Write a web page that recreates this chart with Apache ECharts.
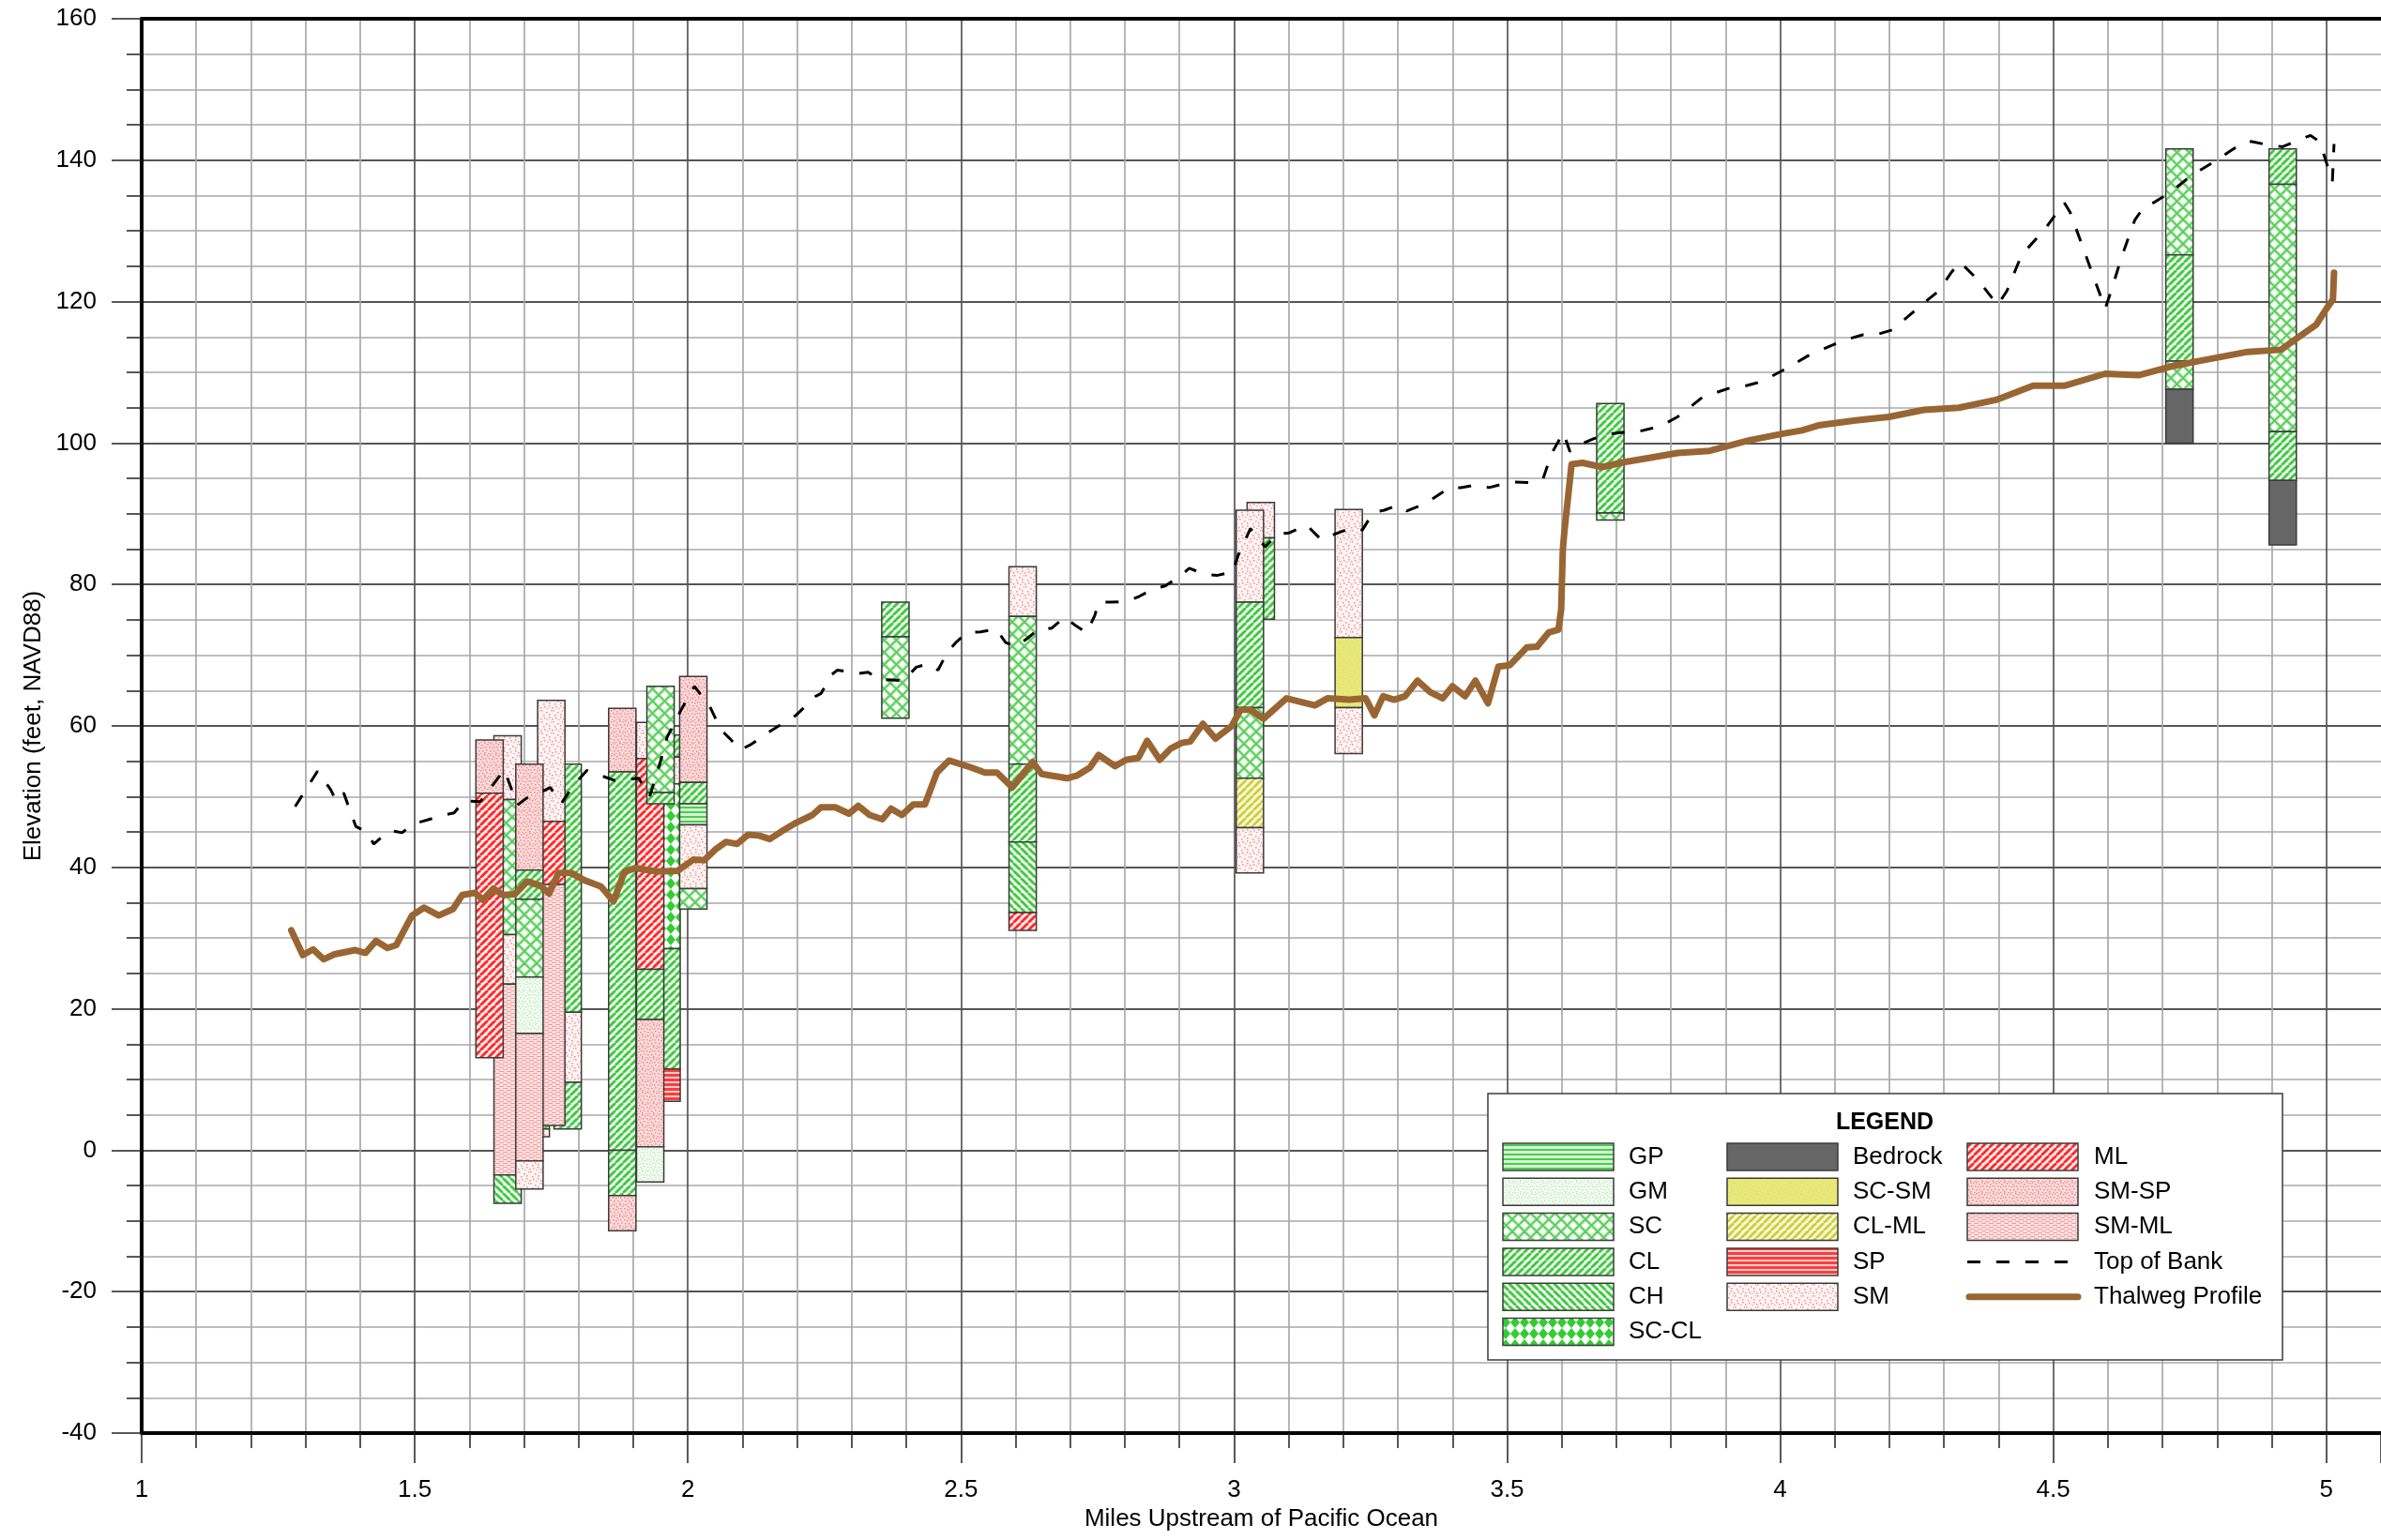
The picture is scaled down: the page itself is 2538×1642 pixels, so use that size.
<!DOCTYPE html>
<html>
<head>
<meta charset="utf-8">
<script src="https://cdn.jsdelivr.net/npm/echarts@6/dist/echarts.min.js"></script>
<style>
  html, body { margin: 0; padding: 0; background: #ffffff; overflow: hidden; }
  #chart { width: 2538px; height: 1642px; }
</style>
</head>
<body>
<div id="chart"></div>
<script>
// ---------------------------------------------------------------
// Axis tick labels
const xTickLabels = ['1', '1.5', '2', '2.5', '3', '3.5', '4', '4.5', '5'];
const yTickLabels = ['-40', '-20', '0', '20', '40', '60', '80', '100', '120', '140', '160'];

// Thalweg profile (miles upstream, elevation ft NAVD88)
const thalwegMiles = [
  1.274, 1.295, 1.314, 1.333, 1.353, 1.391, 1.410, 1.429, 1.450, 1.466,
  1.495, 1.517, 1.544, 1.570, 1.587, 1.610, 1.625, 1.644, 1.661, 1.683,
  1.706, 1.730, 1.746, 1.763, 1.787, 1.810, 1.841, 1.864, 1.884, 1.904,
  1.944, 1.981, 2.010, 2.030, 2.050, 2.070, 2.090, 2.110, 2.130, 2.150,
  2.170, 2.198, 2.228, 2.244, 2.270, 2.295, 2.312, 2.333, 2.356, 2.372,
  2.392, 2.413, 2.434, 2.456, 2.478, 2.516, 2.544, 2.566, 2.594, 2.631,
  2.648, 2.694, 2.713, 2.736, 2.752, 2.782, 2.802, 2.825, 2.841, 2.864,
  2.884, 2.904, 2.920, 2.943, 2.966, 2.996, 3.012, 3.030, 3.054, 3.096,
  3.148, 3.171, 3.211, 3.241, 3.257, 3.273, 3.293, 3.313, 3.336, 3.359,
  3.382, 3.400, 3.423, 3.442, 3.465, 3.484, 3.505, 3.536, 3.555, 3.576,
  3.594, 3.599, 3.602, 3.605, 3.618, 3.638, 3.674, 3.714, 3.760, 3.812,
  3.871, 3.944, 4.003, 4.040, 4.070, 4.138, 4.199, 4.263, 4.327, 4.395,
  4.463, 4.520, 4.595, 4.656, 4.720, 4.774, 4.856, 4.917, 4.940, 4.981,
  5.001, 5.012, 5.014
];
const thalwegElev = [
  31.1, 27.6, 28.4, 27.0, 27.7, 28.3, 27.9, 29.6, 28.6, 29.0,
  33.2, 34.3, 33.2, 34.1, 36.1, 36.4, 35.4, 37.0, 36.1, 36.2,
  38.0, 37.4, 36.3, 39.2, 39.2, 38.2, 37.3, 35.2, 39.4, 39.9,
  39.4, 39.5, 41.1, 41.0, 42.5, 43.6, 43.3, 44.6, 44.5, 44.0,
  45.0, 46.3, 47.4, 48.5, 48.5, 47.6, 48.7, 47.4, 46.8, 48.3,
  47.4, 48.9, 48.9, 53.4, 55.1, 54.2, 53.4, 53.4, 51.3, 54.9,
  53.2, 52.6, 53.0, 54.1, 55.9, 54.3, 55.2, 55.5, 57.9, 55.2,
  56.8, 57.6, 57.8, 60.3, 58.2, 60.0, 62.3, 62.3, 61.0, 63.9,
  62.9, 63.9, 63.7, 63.9, 61.5, 64.2, 63.7, 64.2, 66.4, 64.8,
  63.9, 65.6, 64.2, 66.4, 63.2, 68.4, 68.6, 71.1, 71.2, 73.2,
  73.6, 76.5, 84.9, 87.6, 97.0, 97.2, 96.6, 97.3, 97.9, 98.6,
  98.9, 100.4, 101.3, 101.8, 102.5, 103.2, 103.7, 104.7, 105.0, 106.1,
  108.1, 108.1, 109.8, 109.6, 110.9, 111.7, 112.9, 113.2, 114.5, 116.7,
  119.1, 120.3, 124.1
];

// Top of bank (miles upstream, elevation ft NAVD88)
const bankMiles = [
  1.281, 1.322, 1.346, 1.356, 1.370, 1.392, 1.412, 1.425, 1.440, 1.455,
  1.477, 1.496, 1.523, 1.548, 1.572, 1.590, 1.620, 1.664, 1.688, 1.705,
  1.733, 1.748, 1.768, 1.793, 1.815, 1.840, 1.866, 1.890, 1.910, 1.930,
  1.950, 1.962, 1.990, 2.012, 2.040, 2.060, 2.077, 2.096, 2.116, 2.152,
  2.198, 2.234, 2.244, 2.264, 2.274, 2.290, 2.310, 2.330, 2.350, 2.375,
  2.395, 2.418, 2.441, 2.458, 2.475, 2.492, 2.511, 2.536, 2.564, 2.582,
  2.600, 2.622, 2.644, 2.666, 2.690, 2.708, 2.730, 2.745, 2.752, 2.774,
  2.804, 2.826, 2.853, 2.874, 2.900, 2.918, 2.948, 2.970, 2.998, 3.008,
  3.030, 3.057, 3.078, 3.101, 3.133, 3.160, 3.187, 3.215, 3.235, 3.255,
  3.275, 3.300, 3.316, 3.346, 3.365, 3.395, 3.415, 3.444, 3.467, 3.497,
  3.513, 3.549, 3.566, 3.582, 3.603, 3.615, 3.628, 3.658, 3.681, 3.710,
  3.733, 3.766, 3.786, 3.812, 3.832, 3.858, 3.904, 3.927, 3.957, 3.976,
  4.003, 4.026, 4.050, 4.100, 4.124, 4.151, 4.175, 4.205, 4.219, 4.263,
  4.290, 4.314, 4.329, 4.354, 4.368, 4.398, 4.415, 4.442, 4.470, 4.486,
  4.520, 4.531, 4.595, 4.608, 4.625, 4.649, 4.666, 4.686, 4.713, 4.754,
  4.801, 4.822, 4.852, 4.866, 4.890, 4.920, 4.951, 4.971, 4.988, 5.011,
  5.014
];
const bankElev = [
  48.6, 53.6, 51.0, 49.4, 50.5, 45.8, 45.0, 43.3, 44.3, 45.2,
  44.9, 46.1, 46.7, 47.3, 47.7, 49.4, 49.3, 53.8, 48.8, 49.8,
  50.7, 51.3, 49.0, 51.8, 53.7, 53.0, 52.3, 52.4, 52.6, 50.0,
  55.0, 58.4, 62.6, 65.6, 62.8, 59.5, 58.2, 56.6, 57.4, 59.3,
  61.5, 64.2, 64.6, 67.3, 67.9, 67.7, 67.4, 67.6, 66.6, 66.5,
  66.4, 68.3, 68.8, 67.9, 70.4, 71.9, 73.2, 73.3, 73.7, 71.8,
  71.2, 72.4, 73.8, 73.8, 75.4, 74.3, 73.2, 75.6, 77.5, 77.5,
  77.6, 78.3, 79.4, 79.8, 81.1, 82.3, 81.4, 81.3, 81.8, 84.2,
  87.9, 85.3, 87.1, 87.3, 88.4, 86.3, 87.2, 88.0, 87.7, 90.2,
  90.5, 91.2, 90.4, 91.3, 92.2, 93.7, 93.7, 94.1, 93.7, 94.3,
  94.5, 94.4, 95.0, 98.6, 101.5, 98.8, 99.6, 100.6, 101.2, 101.5,
  101.5, 102.1, 102.6, 103.7, 104.9, 106.5, 107.7, 107.9, 108.5, 109.1,
  110.2, 111.2, 112.3, 114.0, 114.7, 115.3, 115.3, 116.0, 116.9, 119.8,
  121.5, 124.2, 125.6, 123.7, 122.5, 119.5, 121.5, 126.6, 129.0, 130.4,
  134.0, 132.6, 119.0, 122.0, 126.3, 131.5, 133.4, 134.1, 135.4, 137.9,
  140.1, 141.2, 142.7, 142.6, 142.2, 141.9, 142.9, 143.5, 142.6, 137.0,
  142.3
];

// Soil classes shown in the boring logs
const soilTypes = ['GP', 'GM', 'SC', 'CL', 'CH', 'SC-CL', 'Bedrock', 'SC-SM', 'CL-ML', 'SP', 'SM', 'ML', 'SM-SP', 'SM-ML'];

// Boring logs: [top elevation, bottom elevation, soil class]
const bh01 = [[58.0, 50.5, 'SM-SP'], [50.5, 13.1, 'ML']];
const bh02 = [[58.6, 49.6, 'SM'], [49.6, 30.5, 'SC'], [30.5, 23.5, 'SM'], [23.5, -3.5, 'SM-ML'], [-3.5, -7.5, 'CH']];
const bh03 = [[54.6, 39.6, 'SM-SP'], [39.6, 35.5, 'CL'], [35.5, 24.5, 'SC'], [24.5, 16.5, 'GM'], [16.5, -1.5, 'SM-ML'], [-1.5, -5.5, 'SM']];
const bh03b = [[9.0, 3.0, 'CL'], [3.0, 1.9, 'SM']];
const bh04 = [[63.6, 46.5, 'SM'], [46.5, 37.6, 'ML'], [37.6, 3.5, 'SM-ML']];
const bh05 = [[54.6, 19.5, 'CL'], [19.5, 9.6, 'SM'], [9.6, 3.0, 'CL']];
const bh06 = [[62.5, 53.5, 'SM-SP'], [53.5, 0.0, 'CL'], [0.0, -6.4, 'CL'], [-6.4, -11.4, 'SM-SP']];
const bh07 = [[60.5, 55.4, 'SM'], [55.4, 25.6, 'ML'], [25.6, 18.5, 'CL'], [18.5, 0.5, 'SM-SP'], [0.5, -4.5, 'GM']];
const bh08 = [[65.6, 50.6, 'SC'], [50.6, 49.0, 'CL']];
const bh09 = [[58.7, 55.6, 'CL'], [55.6, 51.8, 'SM'], [51.8, 28.5, 'SC-CL'], [28.5, 11.5, 'CL'], [11.5, 6.9, 'SP']];
const bh10 = [[67.0, 52.0, 'SM-SP'], [52.0, 49.0, 'CL'], [49.0, 46.0, 'GP'], [46.0, 37.0, 'SM'], [37.0, 34.1, 'SC']];
const bh11 = [[77.5, 72.6, 'CL'], [72.6, 61.1, 'SC']];
const bh12 = [[82.5, 75.5, 'SM'], [75.5, 54.6, 'SC'], [54.6, 43.6, 'CL'], [43.6, 33.6, 'CH'], [33.6, 31.1, 'ML']];
const bh13 = [[90.5, 77.5, 'SM'], [77.5, 62.6, 'CL'], [62.6, 52.6, 'SC'], [52.6, 45.6, 'CL-ML'], [45.6, 39.2, 'SM']];
const bh14 = [[91.6, 86.6, 'SM'], [86.6, 75.1, 'CL']];
const bh15 = [[90.6, 72.5, 'SM'], [72.5, 62.6, 'SC-SM'], [62.6, 56.1, 'SM']];
const bh16 = [[105.6, 90.1, 'CL'], [90.1, 89.1, 'SC']];
const bh17 = [[141.6, 126.6, 'SC'], [126.6, 111.6, 'CL'], [111.6, 107.6, 'SC'], [107.6, 100.0, 'Bedrock']];
const bh18 = [[141.6, 136.6, 'CL'], [136.6, 101.6, 'SC'], [101.6, 94.7, 'CL'], [94.7, 85.6, 'Bedrock']];

const boringStations = [1.637, 1.670, 1.710, 1.7215, 1.750, 1.780, 1.880, 1.931, 1.950, 1.961, 2.010,
                        2.380, 2.613, 3.029, 3.049, 3.210, 3.689, 4.731, 4.920];
const boringLogs = [bh01, bh02, bh03, bh03b, bh04, bh05, bh06, bh07, bh08, bh09, bh10,
                    bh11, bh12, bh13, bh14, bh15, bh16, bh17, bh18];

// Overlapping logs: later entries are painted on top
const paintOrder = [3, 5, 4, 1, 2, 0, 6, 9, 7, 8, 10, 11, 12, 14, 13, 15, 16, 17, 18];

// ---------------------------------------------------------------
// Hatch fills
function tile(w, h, draw) {
  const c = document.createElement('canvas');
  c.width = w; c.height = h;
  const ctx = c.getContext('2d');
  draw(ctx, w, h);
  return c;
}
function diag(size, fg, halo, bg, lw, up) {
  return tile(size, size, (ctx) => {
    ctx.fillStyle = bg; ctx.fillRect(0, 0, size, size);
    const pass = (color, width) => {
      ctx.strokeStyle = color; ctx.lineWidth = width;
      for (let k = -1; k <= 1; k++) {
        ctx.beginPath();
        if (up) { ctx.moveTo(k * size, size); ctx.lineTo(k * size + size, 0); }
        else { ctx.moveTo(k * size, 0); ctx.lineTo(k * size + size, size); }
        ctx.stroke();
      }
    };
    pass(halo, lw + 2);
    pass(fg, lw);
  });
}
function hstripe(h, on, fg, bg) {
  return tile(4, h, (ctx) => {
    ctx.fillStyle = bg; ctx.fillRect(0, 0, 4, h);
    ctx.fillStyle = fg; ctx.fillRect(0, 0, 4, on);
  });
}
function speckle(size, bg, fg, dots, dotSize) {
  return tile(size, size, (ctx) => {
    ctx.fillStyle = bg; ctx.fillRect(0, 0, size, size);
    ctx.fillStyle = fg;
    dots.forEach(([x, y]) => ctx.fillRect(x, y, dotSize, dotSize));
  });
}
const dotsSparse = [[1, 1], [6, 3], [3, 6], [9, 8], [0, 10], [7, 11], [11, 1], [4, 9], [9, 5]];
const dotsDense = [[0, 0], [3, 1], [6, 0], [9, 2], [1, 4], [5, 4], [8, 5], [11, 4], [2, 7], [6, 8], [10, 8], [0, 10], [4, 11], [8, 11]];

const fills = {
  'GP': { image: hstripe(5, 2, '#4fcc4f', '#d2f3d2'), repeat: 'repeat' },
  'GM': { image: speckle(12, '#f3fbf3', '#bfeabf', dotsDense, 1.5), repeat: 'repeat' },
  'SC': { image: tile(13, 13, (ctx) => {
            ctx.fillStyle = '#ffffff'; ctx.fillRect(0, 0, 13, 13);
            const pass = (c, w) => {
              ctx.strokeStyle = c; ctx.lineWidth = w;
              for (let k = -1; k <= 1; k++) {
                ctx.beginPath(); ctx.moveTo(k * 13, 13); ctx.lineTo(k * 13 + 13, 0); ctx.stroke();
                ctx.beginPath(); ctx.moveTo(k * 13, 0); ctx.lineTo(k * 13 + 13, 13); ctx.stroke();
              }
            };
            pass('#c4efc4', 4); pass('#5acd5a', 1.8);
          }), repeat: 'repeat' },
  'CL': { image: diag(8, '#3ec63e', '#bdeebd', '#ffffff', 2.4, true), repeat: 'repeat' },
  'CH': { image: diag(8, '#3ec63e', '#bdeebd', '#ffffff', 2.4, false), repeat: 'repeat' },
  'SC-CL': { image: tile(10, 12, (ctx) => {
            ctx.fillStyle = '#ffffff'; ctx.fillRect(0, 0, 10, 12);
            ctx.fillStyle = '#33cc33';
            ctx.beginPath(); ctx.moveTo(5, 0); ctx.lineTo(10, 6); ctx.lineTo(5, 12); ctx.lineTo(0, 6); ctx.closePath(); ctx.fill();
          }), repeat: 'repeat' },
  'Bedrock': '#666666',
  'SC-SM': { image: speckle(12, '#e8e87a', '#dcdc62', dotsSparse, 1), repeat: 'repeat' },
  'CL-ML': { image: diag(8, '#c9c93a', '#ecec9e', '#fbfbe2', 2.2, true), repeat: 'repeat' },
  'SP': { image: hstripe(5, 3, '#ff3c3c', '#ffcfcf'), repeat: 'repeat' },
  'SM': { image: speckle(12, '#fff4f4', '#f39595', dotsSparse, 1.6), repeat: 'repeat' },
  'ML': { image: diag(8, '#ff2424', '#ffb4b4', '#ffffff', 2.4, true), repeat: 'repeat' },
  'SM-SP': { image: speckle(12, '#fbdcdc', '#f28e8e', dotsDense, 1.6), repeat: 'repeat' },
  'SM-ML': { image: tile(8, 4, (ctx) => {
            ctx.fillStyle = '#fde2e2'; ctx.fillRect(0, 0, 8, 4);
            ctx.fillStyle = '#f39c9c';
            ctx.fillRect(0, 0, 5, 1);
            ctx.fillRect(4, 2, 5, 1); ctx.fillRect(-4, 2, 5, 1);
          }), repeat: 'repeat' }
};

// Layer rectangles in paint order: [mile, top, bottom, class index]
const layerData = [];
paintOrder.forEach((i) => {
  boringLogs[i].forEach(([top, bottom, cls]) => {
    layerData.push([boringStations[i], top, bottom, soilTypes.indexOf(cls)]);
  });
});

const BORING_HALF_WIDTH = 0.025; // miles

// ---------------------------------------------------------------
// Legend block
const FONT = '"Liberation Sans", Arial, Helvetica, sans-serif';
const legendCols = [
  { x: 1602, textX: 1736, items: ['GP', 'GM', 'SC', 'CL', 'CH', 'SC-CL'] },
  { x: 1841, textX: 1975, items: ['Bedrock', 'SC-SM', 'CL-ML', 'SP', 'SM'] },
  { x: 2097, textX: 2232, items: ['ML', 'SM-SP', 'SM-ML'] }
];
const rowTop = (r) => 1219 + r * 37.3;
const legendGraphics = [
  { type: 'rect', shape: { x: 1586, y: 1166, width: 847, height: 284 },
    style: { fill: '#ffffff', stroke: '#3c3c3c', lineWidth: 1.5 }, z: 10 },
  { type: 'text', x: 2009, y: 1197, z: 11,
    style: { text: 'LEGEND', font: 'bold 25px ' + FONT, fill: '#000', align: 'center', verticalAlign: 'middle', textAlign: 'center', textVerticalAlign: 'middle' } }
];
legendCols.forEach((col) => {
  col.items.forEach((name, r) => {
    legendGraphics.push({ type: 'rect', z: 11, shape: { x: col.x, y: rowTop(r), width: 118, height: 29 },
      style: { fill: fills[name], stroke: '#3a3a3a', lineWidth: 1.5 } });
    legendGraphics.push({ type: 'text', z: 11, x: col.textX, y: rowTop(r) + 14.5,
      style: { text: name, font: '26px ' + FONT, fill: '#000', align: 'left', verticalAlign: 'middle', textAlign: 'left', textVerticalAlign: 'middle' } });
  });
});
legendGraphics.push({ type: 'line', z: 11, shape: { x1: 2097, y1: rowTop(3) + 14.5, x2: 2214, y2: rowTop(3) + 14.5 },
  style: { stroke: '#000', lineWidth: 3, lineDash: [14, 17] } });
legendGraphics.push({ type: 'text', z: 11, x: 2232, y: rowTop(3) + 14.5,
  style: { text: 'Top of Bank', font: '26px ' + FONT, fill: '#000', align: 'left', verticalAlign: 'middle', textAlign: 'left', textVerticalAlign: 'middle' } });
legendGraphics.push({ type: 'line', z: 11, shape: { x1: 2099, y1: rowTop(4) + 14.5, x2: 2215, y2: rowTop(4) + 14.5 },
  style: { stroke: '#996633', lineWidth: 7, lineCap: 'round' } });
legendGraphics.push({ type: 'text', z: 11, x: 2232, y: rowTop(4) + 14.5,
  style: { text: 'Thalweg Profile', font: '26px ' + FONT, fill: '#000', align: 'left', verticalAlign: 'middle', textAlign: 'left', textVerticalAlign: 'middle' } });

// ---------------------------------------------------------------
const chart = echarts.init(document.getElementById('chart'), null, { renderer: 'canvas' });

const labelFrom = (list) => (v) => {
  const hit = list.find((s) => Math.abs(parseFloat(s) - v) < 1e-6);
  return hit === undefined ? '' : hit;
};

const MAJOR = '#555555';
const MINOR = '#a9a9a9';

chart.setOption({
  backgroundColor: '#ffffff',
  animation: false,
  // The plot runs on past mile 5 up to the page edge
  grid: { left: 151, top: 20, bottom: 114, right: 0, show: false },
  xAxis: [
    { // tenth-mile grid, short ticks and the mile labels
      type: 'value', position: 'bottom', min: 1, max: 5.1, interval: 0.1,
      name: 'Miles Upstream of Pacific Ocean', nameLocation: 'middle', nameGap: 76,
      nameTextStyle: { fontFamily: FONT, fontSize: 26, color: '#000' },
      axisLine: { show: true, onZero: false, lineStyle: { color: '#000', width: 4 } },
      axisTick: { show: true, inside: false, length: 16, lineStyle: { color: '#222', width: 1.5 } },
      axisLabel: { margin: 48, interval: 0, fontFamily: FONT, fontSize: 26, color: '#000', formatter: labelFrom(xTickLabels), showMaxLabel: false, hideOverlap: false },
      splitLine: { show: true, showMinLine: true, showMaxLine: false, lineStyle: { color: [MAJOR, MINOR, MINOR, MINOR, MINOR], width: 1.7 } }
    },
    { // half-mile long ticks
      type: 'value', position: 'bottom', min: 1, max: 5.1, interval: 0.5,
      axisLine: { show: false, onZero: false }, axisLabel: { show: false }, splitLine: { show: false },
      axisTick: { show: true, inside: false, length: 32, lineStyle: { color: '#222', width: 1.5 } }
    },
    { // top frame
      type: 'value', position: 'top', min: 1, max: 5.1,
      axisLine: { show: true, onZero: false, lineStyle: { color: '#000', width: 4 } },
      axisTick: { show: false }, axisLabel: { show: false }, splitLine: { show: false }
    }
  ],
  yAxis: {
    type: 'value', min: -40, max: 160, interval: 20,
    name: 'Elevation (feet, NAVD88)', nameLocation: 'middle', nameGap: 100, nameRotate: 90,
    nameTextStyle: { fontFamily: FONT, fontSize: 26, color: '#000' },
    axisLine: { show: true, onZero: false, lineStyle: { color: '#000', width: 4 } },
    axisTick: { show: true, inside: false, length: 32, lineStyle: { color: '#222', width: 1.5 } },
    minorTick: { show: true, splitNumber: 4, length: 16, lineStyle: { color: '#222', width: 1.5 } },
    axisLabel: { margin: 48, fontFamily: FONT, fontSize: 26, color: '#000', formatter: labelFrom(yTickLabels) },
    splitLine: { show: true, lineStyle: { color: MAJOR, width: 2 } },
    minorSplitLine: { show: true, lineStyle: { color: MINOR, width: 1.5 } }
  },
  graphic: { elements: legendGraphics },
  series: [
    {
      type: 'custom',
      name: 'Boring logs',
      z: 3,
      data: layerData,
      encode: { x: 0, y: [1, 2] },
      renderItem: (params, api) => {
        const x = api.value(0);
        const p1 = api.coord([x - BORING_HALF_WIDTH, api.value(1)]);
        const p2 = api.coord([x + BORING_HALF_WIDTH, api.value(2)]);
        const cls = soilTypes[api.value(3)];
        return {
          type: 'rect',
          shape: { x: p1[0], y: p1[1], width: p2[0] - p1[0], height: p2[1] - p1[1] },
          style: { fill: fills[cls], stroke: '#3a3a3a', lineWidth: 1.5 }
        };
      }
    },
    {
      type: 'line',
      name: 'Top of Bank',
      z: 4,
      data: bankMiles.map((m, i) => [m, bankElev[i]]),
      showSymbol: false, symbol: 'none',
      lineStyle: { color: '#000', width: 3, type: [14, 17] }
    },
    {
      type: 'line',
      name: 'Thalweg Profile',
      z: 5,
      data: thalwegMiles.map((m, i) => [m, thalwegElev[i]]),
      showSymbol: false, symbol: 'none',
      lineStyle: { color: '#996633', width: 7, cap: 'round', join: 'round' }
    }
  ]
});
</script>
</body>
</html>
